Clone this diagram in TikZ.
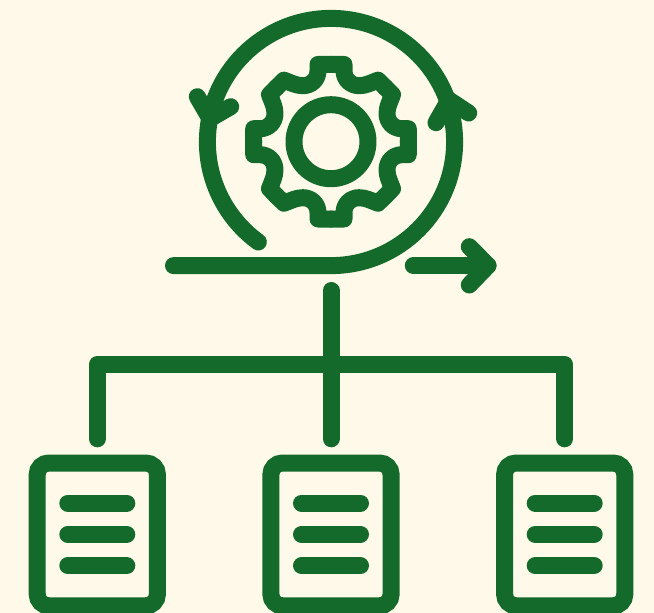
\documentclass[tikz,border=0pt]{standalone}
\definecolor{leaf}{RGB}{19,106,43}
\definecolor{cream}{RGB}{255,249,233}
\tikzset{
  icon/.style={draw=leaf,line width=17pt,line cap=round,line join=round},
  docbox/.style={draw=leaf,line width=17pt,rounded corners=11.5pt,minimum width=120.2pt,minimum height=142.8pt,inner sep=0pt,outer sep=0pt},
}
\begin{document}
\begin{tikzpicture}[x=1pt,y=-1pt]
\useasboundingbox (0,0) rectangle (654,613);
\fill[cream] (0,0) rectangle (654,613);
\clip (0,0) rectangle (654,613);
% spiral with the flow line
\draw[icon] (173.5,265.6) -- (331,265.6) arc[start angle=90,end angle=-234,radius=123.6];
% arrowheads on the ring
\draw[icon] (468.7,113) -- (449,100) -- (436,122.7);
\draw[icon] (197.3,96.7) -- (210,118.6) -- (230.7,106.7);
% outgoing arrow
\draw[icon] (413.3,265.6) -- (488,265.6);
\draw[icon] (469.3,246.7) -- (488,265.6) -- (469.3,285);
% gear
\draw[icon] (331,141.7) circle[radius=37];
\foreach \a in {0,90,180,270}{
  \foreach \m in {1,-1}{
    \begin{scope}[shift={(331,141.7)},rotate=\a,xscale=\m]
      \draw[icon] (0,-77.3) -- (13,-77.3) -- (13,-71)
        .. controls (13,-62) and (20,-56) .. (28,-56)
        .. controls (35,-56) and (40,-59) .. (47,-61.5)
        -- (54.3,-54.3);
    \end{scope}
  }
}
% tree connectors
\coordinate (hubtop) at (331,290.5);
\coordinate (hubbot) at (331,438.8);
\coordinate (legl) at (97.3,438.8);
\coordinate (legr) at (564.7,438.8);
\draw[icon] (hubtop) -- (hubbot);
\draw[icon] (legl) -- (97.3,364.3) -- (564.7,364.3) -- (legr);
% documents
\foreach \n/\x in {1/97.3,2/331,3/564.7}{
  \node[docbox] (doc\n) at (\x,534.4) {};
  \foreach \y in {503,534.3,565.7}{
    \draw[icon] (\x-29.5,\y) -- (\x+29.5,\y);
  }
}
\end{tikzpicture}
\end{document}
